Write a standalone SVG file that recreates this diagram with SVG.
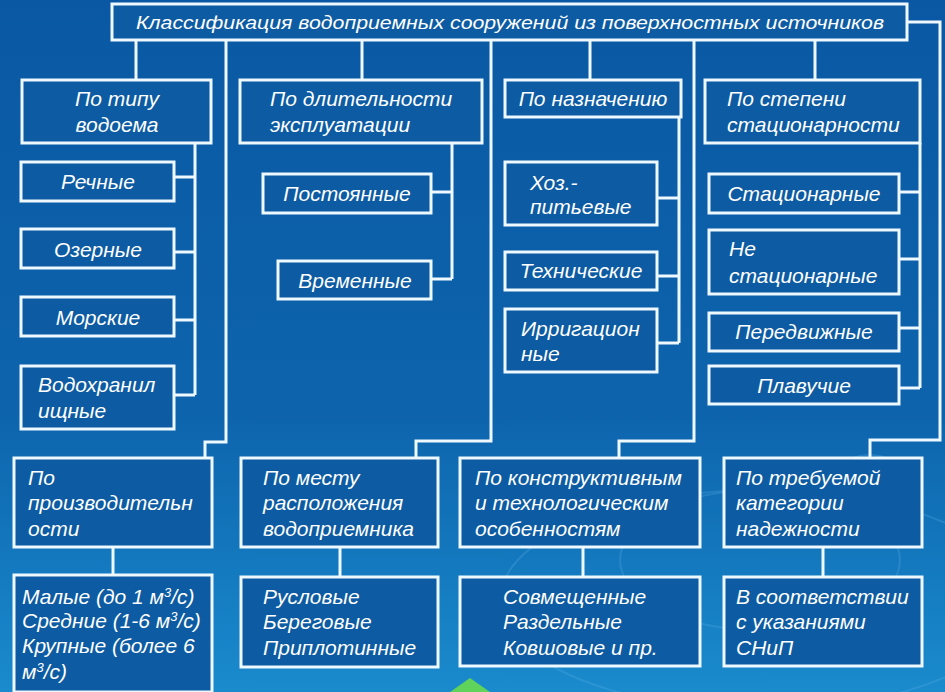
<svg xmlns="http://www.w3.org/2000/svg" width="945" height="692" viewBox="0 0 945 692">
<defs>
<linearGradient id="bg" x1="0" y1="0" x2="0" y2="1">
<stop offset="0" stop-color="#0a58a3"/>
<stop offset="0.6" stop-color="#0d64ad"/>
<stop offset="1" stop-color="#1a8bcd"/>
</linearGradient>
<style>
.box{fill:#0c5ba3;stroke:#eef8ff;stroke-width:3}
.ln{fill:none;stroke:#eef8ff;stroke-width:3}
text{font-family:"Liberation Sans",Arial,sans-serif;font-style:italic;fill:#ffffff;font-size:21px}
.t{font-size:19px}
.c{text-anchor:middle}
.rip{fill:none;stroke:#5fb3e6;stroke-opacity:0.25;stroke-width:2}
</style>
</defs>
<rect width="945" height="692" fill="url(#bg)"/>
<g id="decor">
<circle class="rip" cx="870" cy="500" r="25"/>
<circle class="rip" cx="870" cy="500" r="45"/>
<ellipse class="rip" cx="760" cy="560" rx="140" ry="70"/>
<ellipse class="rip" cx="760" cy="600" rx="260" ry="110"/>
<path d="M450 692 L470 678 L490 692 Z" fill="#5fd35a"/>
</g>
<g id="connectors">
<path class="ln" d="M907 22 H940 V440 H870 V458"/>
<path class="ln" d="M136 40 V80 M362 40 V80 M590 40 V80 M815 40 V80"/>
<path class="ln" d="M226 40 V442 H205 V458"/>
<path class="ln" d="M491 40 V441 H416 V458"/>
<path class="ln" d="M694 40 V441 H619 V458"/>
<path class="ln" d="M195 143 V395 M174 177 H195 M174 252 H195 M174 320 H195 M174 395 H195"/>
<path class="ln" d="M452 143 V279 M431 192 H452 M431 279 H452"/>
<path class="ln" d="M679 117 V343 M657 198 H679 M657 276 H679 M657 343 H679"/>
<path class="ln" d="M920 143 V388 M899 192 H920 M899 259 H920 M899 328 H920 M899 388 H920"/>
<path class="ln" d="M113 547 V575 M340 547 V577 M583 547 V577 M823 547 V577"/>
</g>
<g id="title"><rect class="box" x="112" y="4" width="795" height="36"/><text class="t c" x="510" y="29" textLength="748" lengthAdjust="spacingAndGlyphs">Классификация водоприемных сооружений из поверхностных источников</text></g>
<g id="n-type"><rect class="box" x="22" y="80" width="189" height="63"/><text class="c" x="117" y="106">По типу</text><text class="c" x="117" y="132">водоема</text></g>
<g id="n-dur"><rect class="box" x="240" y="80" width="242" height="63"/><text x="270" y="106">По длительности</text><text x="270" y="132">эксплуатации</text></g>
<g id="n-purp"><rect class="box" x="505" y="80" width="176" height="37"/><text class="c" x="593" y="106">По назначению</text></g>
<g id="n-stat"><rect class="box" x="705" y="80" width="215" height="63"/><text x="727" y="106">По степени</text><text x="727" y="132">стационарности</text></g>
<g id="n-river"><rect class="box" x="21" y="162" width="153" height="39"/><text class="c" x="98" y="189">Речные</text></g>
<g id="n-lake"><rect class="box" x="21" y="229" width="153" height="39"/><text class="c" x="98" y="257">Озерные</text></g>
<g id="n-sea"><rect class="box" x="21" y="297" width="153" height="39"/><text class="c" x="98" y="325">Морские</text></g>
<g id="n-res"><rect class="box" x="21" y="366" width="153" height="63"/><text x="38" y="392">Водохранил</text><text x="38" y="418">ищные</text></g>
<g id="n-perm"><rect class="box" x="263" y="174" width="168" height="39"/><text class="c" x="347" y="201">Постоянные</text></g>
<g id="n-temp"><rect class="box" x="278" y="261" width="153" height="38"/><text class="c" x="355" y="288">Временные</text></g>
<g id="n-house"><rect class="box" x="505" y="162" width="152" height="63"/><text x="530" y="190">Хоз.-</text><text x="530" y="214">питьевые</text></g>
<g id="n-tech"><rect class="box" x="505" y="252" width="152" height="38"/><text class="c" x="581" y="278">Технические</text></g>
<g id="n-irr"><rect class="box" x="505" y="309" width="152" height="63"/><text x="521" y="336">Ирригацион</text><text x="521" y="361">ные</text></g>
<g id="n-st"><rect class="box" x="709" y="174" width="190" height="39"/><text class="c" x="804" y="201">Стационарные</text></g>
<g id="n-nst"><rect class="box" x="709" y="230" width="190" height="64"/><text x="729" y="256">Не</text><text x="729" y="283">стационарные</text></g>
<g id="n-mob"><rect class="box" x="709" y="313" width="190" height="38"/><text class="c" x="804" y="339">Передвижные</text></g>
<g id="n-float"><rect class="box" x="709" y="366" width="190" height="38"/><text class="c" x="804" y="393">Плавучие</text></g>
<g id="n-prod"><rect class="box" x="14" y="458" width="198" height="89"/><text x="28" y="485">По</text><text x="28" y="510">производительн</text><text x="28" y="536">ости</text></g>
<g id="n-place"><rect class="box" x="241" y="458" width="197" height="89"/><text x="263" y="485">По месту</text><text x="263" y="510">расположения</text><text x="263" y="536">водоприемника</text></g>
<g id="n-constr"><rect class="box" x="460" y="458" width="240" height="89"/><text x="475" y="485">По конструктивным</text><text x="475" y="510">и технологическим</text><text x="475" y="536">особенностям</text></g>
<g id="n-rel"><rect class="box" x="724" y="458" width="198" height="89"/><text x="736" y="485">По требуемой</text><text x="736" y="510">категории</text><text x="736" y="536">надежности</text></g>
<g id="n-sizes"><rect class="box" x="14" y="575" width="198" height="117"/><text x="22" y="604">Малые (до 1 м<tspan dy="-7" font-size="13">3</tspan><tspan dy="7">/с)</tspan></text><text x="22" y="628">Средние (1-6 м<tspan dy="-7" font-size="13">3</tspan><tspan dy="7">/с)</tspan></text><text x="22" y="653">Крупные (более 6</text><text x="22" y="679">м<tspan dy="-7" font-size="13">3</tspan><tspan dy="7">/с)</tspan></text></g>
<g id="n-loc"><rect class="box" x="241" y="577" width="197" height="90"/><text x="263" y="604">Русловые</text><text x="263" y="629">Береговые</text><text x="263" y="655">Приплотинные</text></g>
<g id="n-kinds"><rect class="box" x="460" y="577" width="240" height="89"/><text x="503" y="604">Совмещенные</text><text x="503" y="629">Раздельные</text><text x="503" y="655">Ковшовые и пр.</text></g>
<g id="n-snip"><rect class="box" x="724" y="577" width="198" height="89"/><text x="736" y="604">В соответствии</text><text x="736" y="629">с указаниями</text><text x="736" y="655">СНиП</text></g>
</svg>
